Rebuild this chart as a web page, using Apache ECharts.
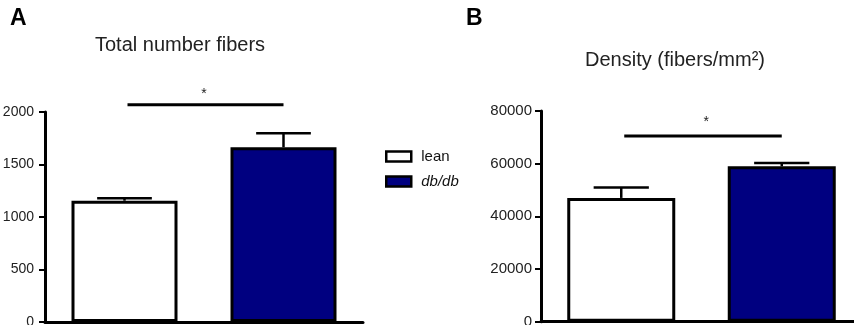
<!DOCTYPE html>
<html>
<head>
<meta charset="utf-8">
<script src="https://cdn.jsdelivr.net/npm/echarts@6/dist/echarts.min.js"></script>
<style>
html,body{margin:0;padding:0;background:#fff;overflow:hidden;}
#main{width:854px;height:325px;}
</style>
</head>
<body>
<div id="main"></div>
<script>
// ---- data ----
var categories = ['lean', 'db/db'];
var seriesNames = ['lean', 'db/db'];
var totalFibersMean = [1155, 1664];
var totalFibersSem = [23, 133];
var densityMean = [47000, 59000];
var densitySem = [4000, 1300];
var totalTicks = [0, 500, 1000, 1500, 2000];
var densityTicks = [0, 20000, 40000, 60000, 80000];
// significance: from cat, to cat, line level, star level, star position (category units)
var sigA = [0, 1, 2070, 2170, 0.5];
var sigB = [0, 1, 70500, 75700, 0.53];
var titles = ['Total number fibers', 'Density (fibers/mm\u00B2)'];
var panelLabels = ['A', 'B'];

var FONT = '"Liberation Sans", Arial, sans-serif';
var NAVY = '#000080';
var colors = ['#ffffff', NAVY];

var chart = echarts.init(document.getElementById('main'), null, {renderer: 'canvas'});

function yAxisFor(gridIndex, ticks, margin, fs) {
  return {
    type: 'value', gridIndex: gridIndex,
    min: ticks[0], max: ticks[ticks.length - 1], interval: ticks[1] - ticks[0],
    axisLine: {show: true, lineStyle: {color: '#000', width: 3}},
    axisTick: {show: true, length: 6, lineStyle: {color: '#000', width: 2}},
    axisLabel: {color: '#222', fontFamily: FONT, fontSize: fs, margin: margin,
      formatter: function (v) { return String(v); }},
    splitLine: {show: false}
  };
}
function xAxisFor(gridIndex) {
  return {
    type: 'category', gridIndex: gridIndex, data: categories,
    axisLine: {show: true, lineStyle: {color: '#000', width: 3}},
    axisTick: {show: false}, axisLabel: {show: false}
  };
}
function barSeries(gi, means, bw) {
  return seriesNames.map(function (name, i) {
    var d = means.map(function (v, j) { return j === i ? v : '-'; });
    return {
      name: name, type: 'bar', xAxisIndex: gi, yAxisIndex: gi,
      stack: 'g' + gi, barWidth: bw, data: d, z: 2,
      itemStyle: {color: colors[i], borderColor: '#000', borderWidth: 3}
    };
  });
}
function errSeries(gi, means, sems) {
  return {
    type: 'custom', xAxisIndex: gi, yAxisIndex: gi, z: 5, clip: false,
    data: means.map(function (m, j) { return [j, m, sems[j]]; }),
    renderItem: function (params, api) {
      var x = api.value(0), m = api.value(1), e = api.value(2);
      var p0 = api.coord([x, m]);
      var p1 = api.coord([x, m + e]);
      var half = api.size([1, 0])[0] * 0.172;
      var st = {stroke: '#000', lineWidth: 2.5};
      return {type: 'group', children: [
        {type: 'line', shape: {x1: p0[0], y1: p0[1], x2: p1[0], y2: p1[1]}, style: st},
        {type: 'line', shape: {x1: p1[0] - half, y1: p1[1], x2: p1[0] + half, y2: p1[1]}, style: st}
      ]};
    }
  };
}
function sigSeries(gi, sig) {
  return {
    type: 'custom', xAxisIndex: gi, yAxisIndex: gi, z: 6, clip: false,
    data: [sig],
    renderItem: function (params, api) {
      var a = api.coord([api.value(0), api.value(2)]);
      var b = api.coord([api.value(1), api.value(2)]);
      var sy = api.coord([api.value(0), api.value(3)])[1];
      var sx = a[0] + (b[0] - a[0]) * api.value(4);
      return {type: 'group', children: [
        {type: 'line', shape: {x1: a[0] + 3, y1: a[1], x2: b[0], y2: b[1]}, style: {stroke: '#000', lineWidth: 3}},
        {type: 'text', style: {text: '*', x: sx, y: sy, fontSize: 14, fontFamily: FONT, fill: '#222', align: 'center', verticalAlign: 'middle'}}
      ]};
    }
  };
}

var option = {
  animation: false,
  backgroundColor: '#fff',
  grid: [
    {left: 45, top: 112, width: 318, height: 210, outerBoundsMode: 'none', containLabel: false},
    {left: 541, top: 111, width: 321, height: 210.7, outerBoundsMode: 'none', containLabel: false}
  ],
  xAxis: [xAxisFor(0), xAxisFor(1)],
  yAxis: [yAxisFor(0, totalTicks, 11, 14), yAxisFor(1, densityTicks, 9, 15)],
  legend: {
    orient: 'vertical', left: 385, top: 149, padding: 0,
    itemWidth: 25, itemHeight: 10, itemGap: 10,
    icon: 'rect', data: seriesNames,
    itemStyle: {borderColor: '#000', borderWidth: 2.5},
    textStyle: {fontFamily: FONT, fontSize: 15, color: '#111', padding: [0, 0, 0, 5],
      rich: {i: {fontStyle: 'italic', fontFamily: FONT, fontSize: 15, color: '#111'}}},
    formatter: function (n) { return n === 'db/db' ? '{i|db/db}' : n; }
  },
  graphic: [
    {type: 'text', left: 10, top: 7, style: {text: panelLabels[0], font: 'bold 23px ' + FONT, fill: '#000'}},
    {type: 'text', left: 466, top: 7, style: {text: panelLabels[1], font: 'bold 23px ' + FONT, fill: '#000'}},
    {type: 'text', x: 180, y: 45, style: {text: titles[0], font: '20px ' + FONT, fill: '#222', align: 'center', verticalAlign: 'middle'}},
    {type: 'text', x: 675, y: 60, style: {text: titles[1], font: '20px ' + FONT, fill: '#222', align: 'center', verticalAlign: 'middle'}}
  ],
  series: [].concat(
    barSeries(0, totalFibersMean, 106),
    barSeries(1, densityMean, 108),
    [errSeries(0, totalFibersMean, totalFibersSem), errSeries(1, densityMean, densitySem),
     sigSeries(0, sigA), sigSeries(1, sigB)]
  )
};
chart.setOption(option);
</script>
</body>
</html>
